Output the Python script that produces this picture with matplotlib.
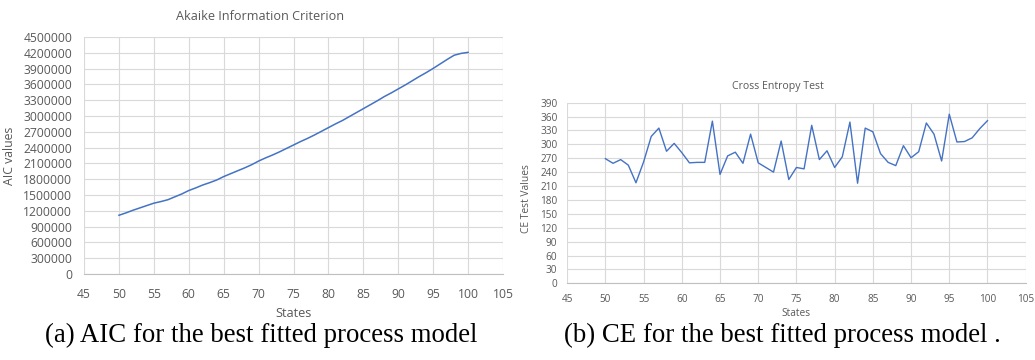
import matplotlib
matplotlib.use("Agg")
import matplotlib.pyplot as plt
from matplotlib.ticker import StrMethodFormatter

# states on the x axis
states = list(range(50, 101))

# AIC values (left panel)
aic = [1115000, 1160000, 1210000, 1255000, 1300000, 1345000, 1375000, 1410000,
       1465000, 1520000, 1585000, 1635000, 1690000, 1735000, 1785000, 1850000,
       1905000, 1960000, 2015000, 2075000, 2145000, 2205000, 2260000, 2320000,
       2385000, 2450000, 2515000, 2575000, 2640000, 2710000, 2780000, 2850000,
       2915000, 2990000, 3065000, 3140000, 3215000, 3290000, 3370000, 3440000,
       3515000, 3590000, 3670000, 3750000, 3825000, 3905000, 3990000, 4075000,
       4155000, 4190000, 4210000]

# cross entropy test values (right panel)
ce = [269, 259, 267, 255, 217, 262, 317, 335, 285, 302, 282, 260, 261, 261,
      350, 235, 275, 283, 259, 322, 260, 250, 240, 307, 224, 250, 247, 341,
      267, 286, 250, 273, 348, 216, 335, 327, 280, 261, 254, 297, 271, 284,
      346, 322, 264, 365, 305, 306, 314, 334, 351]

xticks = list(range(45, 106, 5))
aic_ticks = list(range(0, 4500001, 300000))
ce_ticks = list(range(0, 391, 30))

line_col = "#4472C4"
grid_col = "#D9D9D9"
text_col = "#595959"

plt.rcParams['font.family'] = ['Open Sans', 'DejaVu Sans']

fig = plt.figure(figsize=(10.35, 3.6), dpi=100)
ax1 = fig.add_axes([0.0812, 0.239, 0.4048, 0.658])
ax2 = fig.add_axes([0.548, 0.213, 0.443, 0.502])


def excel_style(ax, yticks, fs, xpad, ypad):
    ax.set_xlim(45, 105)
    ax.set_xticks(xticks)
    ax.set_ylim(yticks[0], yticks[-1])
    ax.set_yticks(yticks)
    ax.yaxis.set_major_formatter(StrMethodFormatter("{x:.0f}"))
    ax.grid(True, color=grid_col, linewidth=0.8)
    ax.set_axisbelow(True)
    for s in ['top', 'right', 'left']:
        ax.spines[s].set_visible(False)
    ax.spines['bottom'].set_color("#BFBFBF")
    ax.tick_params(length=0, labelsize=fs, colors=text_col)
    ax.tick_params(axis='x', pad=xpad)
    ax.tick_params(axis='y', pad=ypad)


# left: AIC
excel_style(ax1, aic_ticks, 8.7, 10, 8.6)
ax1.plot(states, aic, color=line_col, linewidth=1.1)
ax1.set_title("Akaike Information Criterion", fontsize=9.1, color=text_col,
              x=0.42, pad=12)
ax1.set_ylabel("AIC values", fontsize=8.8, color=text_col)
ax1.yaxis.set_label_coords(-0.162, 0.50)
ax1.set_xlabel("States", fontsize=9.2, color=text_col, va='center')
ax1.xaxis.set_label_coords(0.5, -0.165)

# right: cross entropy
excel_style(ax2, ce_ticks, 7.2, 8, 7)
ax2.plot(states, ce, color=line_col, linewidth=1.0)
ax2.set_title("Cross Entropy Test", fontsize=7.6, color=text_col,
              x=0.46, pad=10)
ax2.set_ylabel("CE Test Values", fontsize=7.4, color=text_col)
ax2.yaxis.set_label_coords(-0.076, 0.47)
ax2.set_xlabel("States", fontsize=7.3, color=text_col, va='center')
ax2.xaxis.set_label_coords(0.5, -0.166)

# captions
fig.text(0.252, 0.05, "(a) AIC for the best fitted process model",
         family='Liberation Serif', fontsize=19.3, ha='center', va='baseline')
fig.text(0.756, 0.05, "(b) CE for the best fitted process model .",
         family='Liberation Serif', fontsize=19.3, ha='center', va='baseline')

fig.savefig("out.png", dpi=100)
